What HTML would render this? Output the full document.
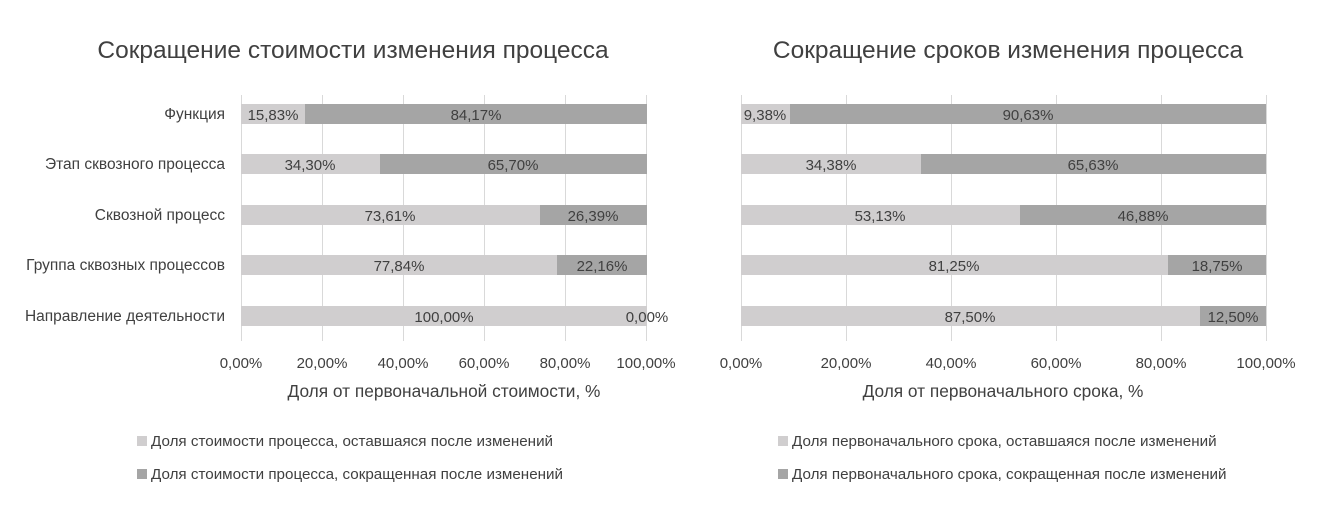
<!DOCTYPE html>
<html><head><meta charset="utf-8"><style>
body{margin:0;background:#fff;width:1327px;height:514px;overflow:hidden}
text{font-family:"Liberation Sans",sans-serif;fill:#404040}
</style></head><body>
<svg width="1327" height="514" xmlns="http://www.w3.org/2000/svg">
<rect width="1327" height="514" fill="#fff"/>
<g>
<text x="353" y="58" font-size="24.5" text-anchor="middle" fill="#595959">Сокращение стоимости изменения процесса</text>
<g stroke="#d9d9d9" stroke-width="1">
<line x1="241.5" y1="95" x2="241.5" y2="341"/><line x1="322.5" y1="95" x2="322.5" y2="341"/><line x1="403.5" y1="95" x2="403.5" y2="341"/><line x1="484.5" y1="95" x2="484.5" y2="341"/><line x1="565.5" y1="95" x2="565.5" y2="341"/><line x1="646.5" y1="95" x2="646.5" y2="341"/>
</g>
<g font-size="15.5" text-anchor="end">
<text x="225" y="119">Функция</text><text x="225" y="169">Этап сквозного процесса</text><text x="225" y="220">Сквозной процесс</text><text x="225" y="270">Группа сквозных процессов</text><text x="225" y="321">Направление деятельности</text>
</g>
<rect x="241" y="104" width="64" height="20" fill="#d0cecf"/><rect x="305" y="104" width="342" height="20" fill="#a5a5a5"/>
<rect x="241" y="154" width="139" height="20" fill="#d0cecf"/><rect x="380" y="154" width="267" height="20" fill="#a5a5a5"/>
<rect x="241" y="205" width="299" height="20" fill="#d0cecf"/><rect x="540" y="205" width="107" height="20" fill="#a5a5a5"/>
<rect x="241" y="255" width="316" height="20" fill="#d0cecf"/><rect x="557" y="255" width="90" height="20" fill="#a5a5a5"/>
<rect x="241" y="306" width="406" height="20" fill="#d0cecf"/>
<g font-size="15" text-anchor="middle">
<text x="273" y="120">15,83%</text><text x="476" y="120">84,17%</text>
<text x="310" y="170">34,30%</text><text x="513" y="170">65,70%</text>
<text x="390" y="221">73,61%</text><text x="593" y="221">26,39%</text>
<text x="399" y="271">77,84%</text><text x="602" y="271">22,16%</text>
<text x="444" y="322">100,00%</text><text x="647" y="322">0,00%</text>
<text x="241" y="368">0,00%</text><text x="322" y="368">20,00%</text><text x="403" y="368">40,00%</text><text x="484" y="368">60,00%</text><text x="565" y="368">80,00%</text><text x="646" y="368">100,00%</text>
</g>
<text x="444" y="397" font-size="17.3" text-anchor="middle">Доля от первоначальной стоимости, %</text>
<rect x="137" y="436" width="10" height="10" fill="#d0cecf"/><text x="151" y="446" font-size="15.2">Доля стоимости процесса, оставшаяся после изменений</text>
<rect x="137" y="469" width="10" height="10" fill="#a5a5a5"/><text x="151" y="479" font-size="15.2">Доля стоимости процесса, сокращенная после изменений</text>
</g>
<g>
<text x="1008" y="58" font-size="24.5" text-anchor="middle" fill="#595959">Сокращение сроков изменения процесса</text>
<g stroke="#d9d9d9" stroke-width="1">
<line x1="741.5" y1="95" x2="741.5" y2="341"/><line x1="846.5" y1="95" x2="846.5" y2="341"/><line x1="951.5" y1="95" x2="951.5" y2="341"/><line x1="1056.5" y1="95" x2="1056.5" y2="341"/><line x1="1161.5" y1="95" x2="1161.5" y2="341"/><line x1="1266.5" y1="95" x2="1266.5" y2="341"/>
</g>
<rect x="741" y="104" width="49" height="20" fill="#d0cecf"/><rect x="790" y="104" width="476" height="20" fill="#a5a5a5"/>
<rect x="741" y="154" width="180" height="20" fill="#d0cecf"/><rect x="921" y="154" width="345" height="20" fill="#a5a5a5"/>
<rect x="741" y="205" width="279" height="20" fill="#d0cecf"/><rect x="1020" y="205" width="246" height="20" fill="#a5a5a5"/>
<rect x="741" y="255" width="427" height="20" fill="#d0cecf"/><rect x="1168" y="255" width="98" height="20" fill="#a5a5a5"/>
<rect x="741" y="306" width="459" height="20" fill="#d0cecf"/><rect x="1200" y="306" width="66" height="20" fill="#a5a5a5"/>
<g font-size="15" text-anchor="middle">
<text x="765" y="120">9,38%</text><text x="1028" y="120">90,63%</text>
<text x="831" y="170">34,38%</text><text x="1093" y="170">65,63%</text>
<text x="880" y="221">53,13%</text><text x="1143" y="221">46,88%</text>
<text x="954" y="271">81,25%</text><text x="1217" y="271">18,75%</text>
<text x="970" y="322">87,50%</text><text x="1233" y="322">12,50%</text>
<text x="741" y="368">0,00%</text><text x="846" y="368">20,00%</text><text x="951" y="368">40,00%</text><text x="1056" y="368">60,00%</text><text x="1161" y="368">80,00%</text><text x="1266" y="368">100,00%</text>
</g>
<text x="1003" y="397" font-size="17.3" text-anchor="middle">Доля от первоначального срока, %</text>
<rect x="778" y="436" width="10" height="10" fill="#d0cecf"/><text x="792" y="446" font-size="15.2">Доля первоначального срока, оставшаяся после изменений</text>
<rect x="778" y="469" width="10" height="10" fill="#a5a5a5"/><text x="792" y="479" font-size="15.2">Доля первоначального срока, сокращенная после изменений</text>
</g>
</svg>
</body></html>
